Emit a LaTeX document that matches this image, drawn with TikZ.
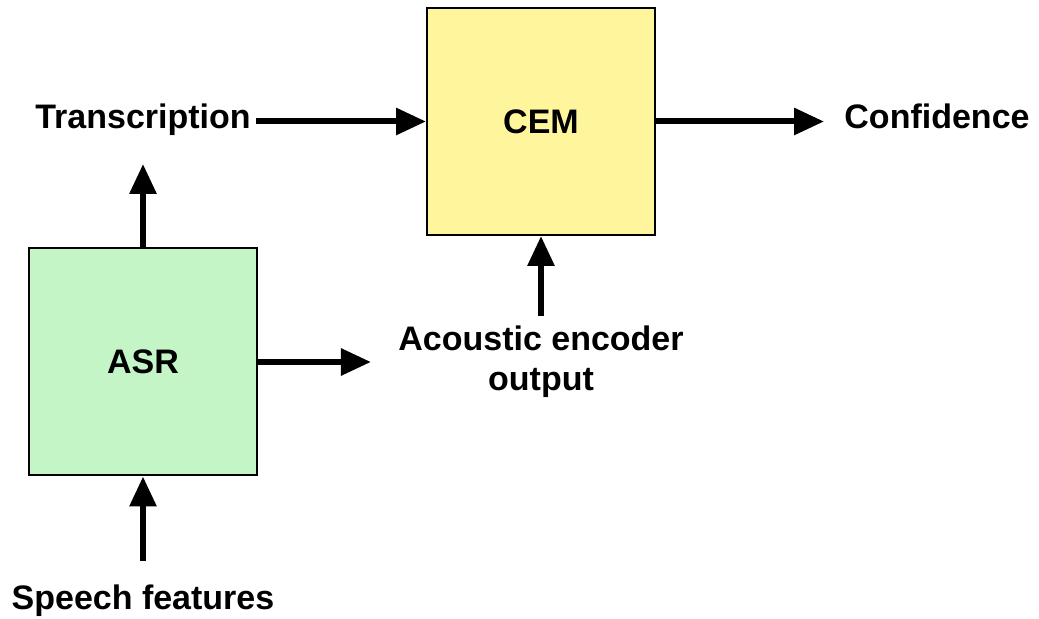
\documentclass[tikz,border=0pt]{standalone}
\usepackage{fontspec}
\setmainfont{Liberation Sans}
\usetikzlibrary{arrows.meta}
\definecolor{cemfill}{HTML}{FFF59D}
\definecolor{asrfill}{HTML}{C4F5C6}
\begin{document}
\begin{tikzpicture}[x=0.5pt,y=-0.5pt,
  block/.style={draw=black, line width=1pt, minimum width=114pt, minimum height=113.5pt,
    inner sep=0pt, font=\bfseries\fontsize{17}{20}\selectfont},
  lbl/.style={font=\bfseries\fontsize{17}{20}\selectfont, inner sep=0pt, align=center},
  arr/.style={line width=3pt, -{Triangle[length=15pt,width=13pt]}}]
\useasboundingbox (0,0) rectangle (1039,619);

% processing blocks
\node[block, fill=cemfill] (cem) at (541,121.5) {CEM};
\node[block, fill=asrfill] (asr) at (143,362) {ASR};

% signal labels
\node[lbl, anchor=base] (trans) at (143,128.5) {Transcription};
\node[lbl, anchor=base] (conf) at (937,128.5) {Confidence};
\node[lbl] (aeo) at (541,362) {Acoustic encoder\\output};
\node[lbl] (speech) at (143,601) {Speech features};

% signal flow
\draw[arr] ([xshift=2.5pt]trans.east |- cem.west) -- (cem.west);
\draw[arr, shorten >=10pt] (cem.east) -- (conf.west |- cem.east);
\draw[arr, shorten >=14pt] (asr.north) -- (trans.south);
\draw[arr, shorten >=13.5pt] (asr.east) -- (aeo.west |- asr.east);
\draw[arr, shorten <=5pt] (aeo.north) -- (cem.south);
\draw[arr, shorten <=12pt] (speech.north) -- (asr.south);
\end{tikzpicture}
\end{document}
